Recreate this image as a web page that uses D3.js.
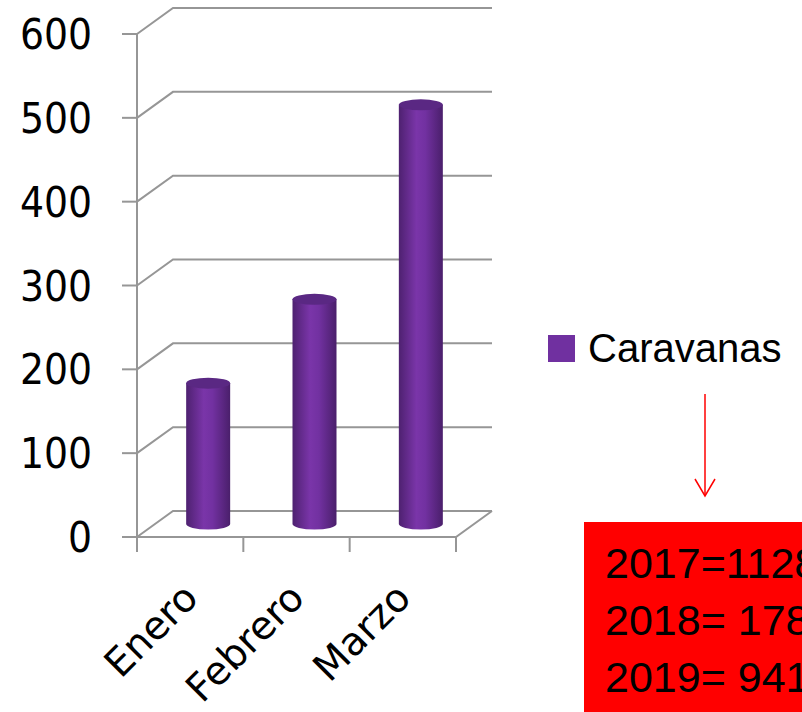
<!DOCTYPE html>
<html>
<head>
<meta charset="utf-8">
<script src="https://cdn.jsdelivr.net/npm/d3@7"></script>
<style>
    body { margin: 0; background: #fff; }
    svg { display: block; }
</style>
</head>
<body>
<svg id="chart"></svg>
<script>
var categories = ["Enero", "Febrero", "Marzo"];
var values = [168, 268, 500];
var yTicks = [0, 100, 200, 300, 400, 500, 600];
var seriesName = "Caravanas";
var notes = ["2017=1128", "2018= 178", "2019= 941"];

var width = 802;
var height = 712;
var depthX = 36, depthY = -26;   // offset of the back wall
var gridColor = "#969696";

var svg = d3.select("#chart").attr("width", width).attr("height", height);

var x = d3.scaleBand().domain(categories).range([137, 456]).padding(0);
var y = d3.scaleLinear().domain([0, 600]).range([537, 34]);

// gradient for the cylinders
var defs = svg.append("defs");
var grad = defs.append("linearGradient").attr("id", "cyl")
    .attr("x1", "0%").attr("x2", "100%").attr("y1", "0%").attr("y2", "0%");
grad.append("stop").attr("offset", "0%").attr("stop-color", "#4e2170");
grad.append("stop").attr("offset", "40%").attr("stop-color", "#7a35a9");
grad.append("stop").attr("offset", "60%").attr("stop-color", "#7231a1");
grad.append("stop").attr("offset", "100%").attr("stop-color", "#4a1f6b");

var grid = svg.append("g")
    .style("stroke", gridColor)
    .style("stroke-width", 2)
    .style("fill", "none");

// back wall gridlines + side wall diagonals
yTicks.forEach(function (t) {
    var yy = y(t);
    grid.append("path")
        .attr("d", "M" + x.range()[0] + "," + yy +
            "L" + (x.range()[0] + depthX) + "," + (yy + depthY) +
            "L" + (x.range()[1] + depthX) + "," + (yy + depthY));
    // tick marks on front axis
    grid.append("line")
        .attr("x1", x.range()[0] - 15).attr("x2", x.range()[0])
        .attr("y1", yy).attr("y2", yy);
});

// front axis line
grid.append("line")
    .attr("x1", x.range()[0]).attr("x2", x.range()[0])
    .attr("y1", y(0)).attr("y2", y(600));

// floor front edge and right diagonal
grid.append("path")
    .attr("d", "M" + x.range()[0] + "," + y(0) +
        "L" + x.range()[1] + "," + y(0) +
        "L" + (x.range()[1] + depthX) + "," + (y(0) + depthY));

// category ticks
var bounds = categories.map(function (c) { return x(c); }).concat([x.range()[1]]);
bounds.forEach(function (b) {
    grid.append("line")
        .attr("x1", b).attr("x2", b)
        .attr("y1", y(0)).attr("y2", y(0) + 15);
});

// y labels
svg.append("g")
    .selectAll("text")
    .data(yTicks)
    .enter().append("text")
    .attr("x", 92)
    .attr("y", function (d) { return y(d); })
    .attr("dy", "0.36em")
    .style("text-anchor", "end")
    .style("font-family", "'DejaVu Sans Condensed', 'DejaVu Sans', sans-serif")
    .style("font-size", "42px")
    .style("fill", "#000")
    .text(function (d) { return d; });

// x labels
svg.append("g")
    .selectAll("text")
    .data(categories)
    .enter().append("text")
    .attr("transform", function (d) {
        var cx = x(d) + x.bandwidth() / 2 + 10;
        return "translate(" + cx + "," + 600 + ") rotate(-45)";
    })
    .style("text-anchor", "end")
    .style("font-family", "'DejaVu Sans', sans-serif")
    .style("font-size", "39px")
    .style("fill", "#000")
    .text(function (d) { return d; });

// cylinders
var rx = 22, ry = 5.5;
var bars = svg.append("g")
    .selectAll("g")
    .data(values)
    .enter().append("g");

bars.append("path")
    .attr("d", function (d, i) {
        var cx = x(categories[i]) + x.bandwidth() / 2 + depthX / 2;
        var yb = y(0) + depthY / 2;
        var yt = y(d) + depthY / 2;
        return "M" + (cx - rx) + "," + yt +
            "L" + (cx - rx) + "," + yb +
            "A" + rx + "," + ry + " 0 0 0 " + (cx + rx) + "," + yb +
            "L" + (cx + rx) + "," + yt + "Z";
    })
    .attr("fill", "url(#cyl)");

bars.append("ellipse")
    .attr("cx", function (d, i) { return x(categories[i]) + x.bandwidth() / 2 + depthX / 2; })
    .attr("cy", function (d) { return y(d) + depthY / 2; })
    .attr("rx", rx)
    .attr("ry", ry)
    .attr("fill", "#5a2883");

// legend
var legend = svg.append("g");
legend.append("rect")
    .attr("x", 548).attr("y", 335)
    .attr("width", 27).attr("height", 27)
    .attr("fill", "#7030a0");
legend.append("text")
    .attr("x", 588).attr("y", 362)
    .style("font-family", "'Liberation Sans', Arial, sans-serif")
    .style("font-size", "40px")
    .style("fill", "#000")
    .text(seriesName);

// red arrow
svg.append("line")
    .attr("x1", 705).attr("x2", 705)
    .attr("y1", 394).attr("y2", 496)
    .style("stroke", "#ff0000").style("stroke-width", 1.5);
svg.append("path")
    .attr("d", "M695,479L705,496L715,479")
    .style("stroke", "#ff0000").style("stroke-width", 1.5).style("fill", "none");

// red note box (text runs off the right edge, as in the slide)
svg.append("rect")
    .attr("x", 584).attr("y", 522)
    .attr("width", width - 584).attr("height", height - 522)
    .attr("fill", "#ff0000");

svg.append("g")
    .selectAll("text")
    .data(notes)
    .enter().append("text")
    .attr("x", 605)
    .attr("y", function (d, i) { return 578 + i * 57; })
    .style("font-family", "'Liberation Sans', Arial, sans-serif")
    .style("font-size", "43px")
    .style("fill", "#000")
    .text(function (d) { return d; });
</script>
</body>
</html>
